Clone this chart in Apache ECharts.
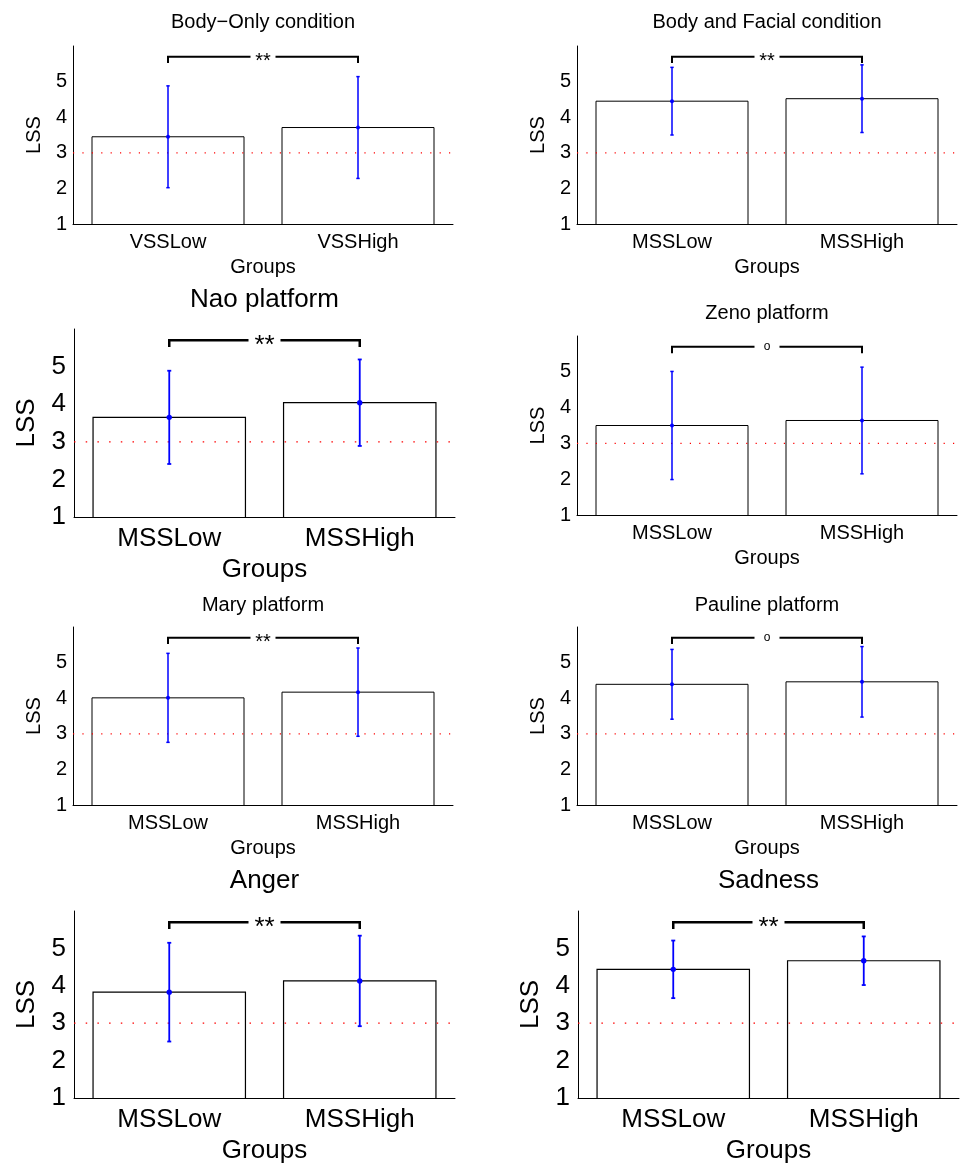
<!DOCTYPE html>
<html>
<head>
<meta charset="utf-8">
<script src="https://cdn.jsdelivr.net/npm/echarts@6/dist/echarts.min.js"></script>
<style>
  html, body { margin: 0; padding: 0; background: #fff; }
  #chart { width: 960px; height: 1165px; }
</style>
</head>
<body>
<div id="chart"></div>
<script>
// ---- data ----
const panelTitles = [
  'Body\u2212Only condition', 'Body and Facial condition',
  'Nao platform', 'Zeno platform',
  'Mary platform', 'Pauline platform',
  'Anger', 'Sadness'
];
const groupNames = [
  ['VSSLow', 'VSSHigh'], ['MSSLow', 'MSSHigh'],
  ['MSSLow', 'MSSHigh'], ['MSSLow', 'MSSHigh'],
  ['MSSLow', 'MSSHigh'], ['MSSLow', 'MSSHigh'],
  ['MSSLow', 'MSSHigh'], ['MSSLow', 'MSSHigh']
];
const meanLow  = [3.45, 4.45, 3.65, 3.50, 4.01, 4.39, 3.83, 4.44];
const meanHigh = [3.71, 4.52, 4.04, 3.64, 4.17, 4.46, 4.13, 4.67];
const errLow   = [1.43, 0.95, 1.24, 1.51, 1.25, 0.98, 1.32, 0.77];
const errHigh  = [1.43, 0.95, 1.15, 1.49, 1.24, 0.99, 1.21, 0.65];
const sigMarks = ['**', '**', '**', 'o', '**', 'o', '**', '**'];
const yTicks = [1, 2, 3, 4, 5];
const yRange = [1, 6];
const chanceLevel = 3;
const bracketTop = 5.7;
const bracketFoot = 5.52;

// ---- layout of the eight panels ----
const layout = [
  { left: 73,  top: 46,  width: 380, height: 178, big: false, titleY: 22.7 },
  { left: 577, top: 46,  width: 380, height: 178, big: false, titleY: 22.5 },
  { left: 74,  top: 329, width: 381, height: 188, big: true,  titleY: 300 },
  { left: 577, top: 336, width: 380, height: 179, big: false, titleY: 313.3 },
  { left: 73,  top: 627, width: 380, height: 178, big: false, titleY: 605 },
  { left: 577, top: 627, width: 380, height: 178, big: false, titleY: 605 },
  { left: 74,  top: 911, width: 381, height: 187, big: true,  titleY: 880.7 },
  { left: 578, top: 911, width: 381, height: 187, big: true,  titleY: 880.7 }
];

const FONT = '"Liberation Sans", Arial, Helvetica, sans-serif';
const style = (big) => big ? {
  font: 26, labelMargin: 9, nameGapX: 40, nameGapY: 34, yLabelMargin: 8,
  barLine: 1.2, errLine: 1.8, cap: 2, dot: 2.7, bracketLine: 2.5, gap: 16, dash: [1.5, 10.2], sigFont: 26
} : {
  font: 20, labelMargin: 8, nameGapX: 33, nameGapY: 29, yLabelMargin: 6,
  barLine: 1, errLine: 1.5, cap: 1.7, dot: 2, bracketLine: 2, gap: 12.5, dash: [1.2, 8.2], sigFont: 20
};

const grid = [], xAxis = [], yAxis = [], series = [], graphic = [];

layout.forEach((g, i) => {
  const s = style(g.big);
  grid.push({ left: g.left, top: g.top, width: g.width, height: g.height, containLabel: false });

  xAxis.push({
    type: 'category', gridIndex: i, data: groupNames[i], boundaryGap: true,
    axisLine: { show: true, lineStyle: { color: '#000', width: 1 } },
    axisTick: { show: false },
    axisLabel: { color: '#000', fontSize: s.font, fontFamily: FONT, margin: s.labelMargin },
    name: 'Groups', nameLocation: 'middle', nameGap: s.nameGapX,
    nameTextStyle: { color: '#000', fontSize: s.font, fontFamily: FONT }
  });

  yAxis.push({
    type: 'value', gridIndex: i, min: yRange[0], max: yRange[1], interval: 1,
    axisLine: { show: true, lineStyle: { color: '#000', width: 1 } },
    axisTick: { show: false },
    splitLine: { show: false },
    axisLabel: {
      color: '#000', fontSize: s.font, fontFamily: FONT, margin: s.yLabelMargin,
      formatter: (v) => yTicks.includes(v) ? String(v) : ''
    },
    name: 'LSS', nameLocation: 'middle', nameGap: s.nameGapY,
    nameTextStyle: { color: '#000', fontSize: s.font, fontFamily: FONT }
  });

  // open-topped outline bars with a white fill
  series.push({
    type: 'custom', xAxisIndex: i, yAxisIndex: i, z: 2,
    data: [[0, meanLow[i]], [1, meanHigh[i]]],
    encode: { x: 0, y: 1 },
    renderItem: (params, api) => {
      const top = api.coord([api.value(0), api.value(1)]);
      const base = api.coord([api.value(0), yRange[0]]);
      const w = api.size([1, 0])[0] * 0.8;
      const x0 = top[0] - w / 2, x1 = top[0] + w / 2;
      return {
        type: 'group',
        children: [
          { type: 'rect', shape: { x: x0, y: top[1], width: w, height: base[1] - top[1] - 0.5 },
            style: { fill: '#fff' } },
          { type: 'polyline',
            shape: { points: [[x0, base[1]], [x0, top[1]], [x1, top[1]], [x1, base[1]]] },
            style: { stroke: '#000', lineWidth: s.barLine, fill: null } }
        ]
      };
    }
  });

  // dotted reference line at the scale midpoint
  series.push({
    type: 'custom', xAxisIndex: i, yAxisIndex: i, z: 3,
    data: [[0, chanceLevel]],
    encode: { x: 0, y: 1 },
    renderItem: (params, api) => {
      const cs = params.coordSys;
      const y = api.coord([0, api.value(1)])[1];
      return {
        type: 'line',
        shape: { x1: cs.x, y1: y, x2: cs.x + cs.width, y2: y },
        style: { stroke: '#ff0000', lineWidth: 1.3, lineDash: s.dash }
      };
    }
  });

  // error bars with mean markers
  series.push({
    type: 'custom', xAxisIndex: i, yAxisIndex: i, z: 4,
    data: [[0, meanLow[i], errLow[i]], [1, meanHigh[i], errHigh[i]]],
    encode: { x: 0, y: 1 },
    renderItem: (params, api) => {
      const x = api.value(0), m = api.value(1), e = api.value(2);
      const hi = api.coord([x, m + e]);
      const lo = api.coord([x, m - e]);
      const mid = api.coord([x, m]);
      const st = { stroke: '#0000ff', lineWidth: s.errLine };
      return {
        type: 'group',
        children: [
          { type: 'line', shape: { x1: hi[0], y1: hi[1], x2: lo[0], y2: lo[1] }, style: st },
          { type: 'line', shape: { x1: hi[0] - s.cap, y1: hi[1], x2: hi[0] + s.cap, y2: hi[1] }, style: st },
          { type: 'line', shape: { x1: lo[0] - s.cap, y1: lo[1], x2: lo[0] + s.cap, y2: lo[1] }, style: st },
          { type: 'circle', shape: { cx: mid[0], cy: mid[1], r: s.dot }, style: { fill: '#0000ff' } }
        ]
      };
    }
  });

  // significance bracket between the two groups
  series.push({
    type: 'custom', xAxisIndex: i, yAxisIndex: i, z: 5,
    data: [[0, bracketTop, bracketFoot]],
    encode: { x: 0, y: 1 },
    renderItem: (params, api) => {
      const a = api.coord([0, api.value(1)]);
      const b = api.coord([1, api.value(1)]);
      const af = api.coord([0, api.value(2)]);
      const bf = api.coord([1, api.value(2)]);
      const cx = (a[0] + b[0]) / 2;
      const st = { stroke: '#000', lineWidth: s.bracketLine, fill: null };
      const isRing = sigMarks[i] === 'o';
      return {
        type: 'group',
        children: [
          { type: 'polyline', shape: { points: [[af[0], af[1]], [a[0], a[1]], [cx - s.gap, a[1]]] }, style: st },
          { type: 'polyline', shape: { points: [[cx + s.gap, b[1]], [b[0], b[1]], [bf[0], bf[1]]] }, style: st },
          { type: 'text', x: cx, y: a[1] + (isRing ? 0 : s.sigFont * 0.22),
            style: { text: sigMarks[i], fill: '#000', fontFamily: FONT,
                     fontSize: isRing ? 12 : s.sigFont,
                     align: 'center', verticalAlign: 'middle' } }
        ]
      };
    }
  });

  graphic.push({
    type: 'text', x: g.left + g.width / 2, y: g.titleY,
    style: { text: panelTitles[i], fill: '#000', fontFamily: FONT, fontSize: s.font,
             align: 'center', verticalAlign: 'middle' }
  });
});

const chart = echarts.init(document.getElementById('chart'), null, { renderer: 'canvas' });
chart.setOption({
  backgroundColor: '#fff',
  animation: false,
  grid, xAxis, yAxis, series, graphic
});
</script>
</body>
</html>
